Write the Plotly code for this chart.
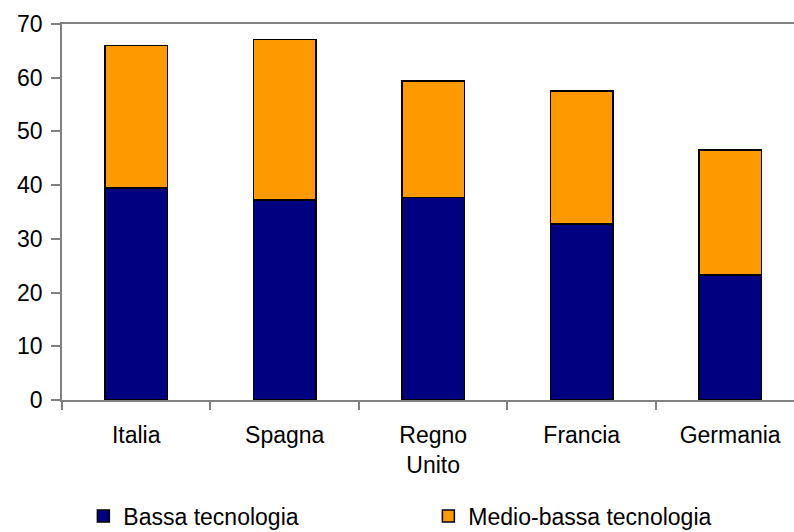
import plotly.graph_objects as go

# Country categories and stacked shares by technology level
paesi = ["Italia", "Spagna", "Regno<br>Unito", "Francia", "Germania"]
bassa_tecnologia = [39.5, 37.2, 37.7, 32.8, 23.3]
medio_bassa_tecnologia = [26.5, 29.9, 21.7, 24.7, 23.2]
y_ticks = [0, 10, 20, 30, 40, 50, 60, 70]

FONT = dict(family="Liberation Sans, Arial, sans-serif", size=23, color="#000000")

fig = go.Figure()
fig.add_trace(go.Bar(
    x=paesi, y=bassa_tecnologia, name="Bassa tecnologia",
    marker=dict(color="#000080", line=dict(color="#000000", width=1.5)),
    width=0.42,
))
fig.add_trace(go.Bar(
    x=paesi, y=medio_bassa_tecnologia, name="Medio-bassa tecnologia",
    marker=dict(color="#FF9900", line=dict(color="#000000", width=1.5)),
    width=0.42,
))

fig.update_layout(
    width=794, height=532,
    margin=dict(l=62, r=0, t=24, b=132, autoexpand=False),
    barmode="stack",
    paper_bgcolor="#FFFFFF",
    plot_bgcolor="#FFFFFF",
    font=FONT,
    showlegend=True,
    legend=dict(
        orientation="h",
        traceorder="normal",
        xref="container", x=0.105, xanchor="left",
        yref="container", y=0.03, yanchor="middle",
        font=FONT,
        entrywidth=300, entrywidthmode="pixels",
        bgcolor="rgba(0,0,0,0)",
    ),
)

fig.update_xaxes(
    type="category",
    range=[-0.5, 4.43],
    showline=True, linecolor="#808080", linewidth=1.5,
    mirror=True,
    ticks="outside", tickson="boundaries", ticklen=8,
    tickcolor="#808080", tickwidth=1.5,
    ticklabelstandoff=14,
    showgrid=False, zeroline=False,
    tickfont=FONT,
)
fig.update_yaxes(
    range=[0, 70],
    tickvals=y_ticks,
    showline=True, linecolor="#808080", linewidth=1.5,
    ticks="outside", ticklen=9, tickcolor="#808080", tickwidth=1.5,
    ticklabelstandoff=4,
    showgrid=False, zeroline=False,
    tickfont=FONT,
)

fig.write_html("out.html")
